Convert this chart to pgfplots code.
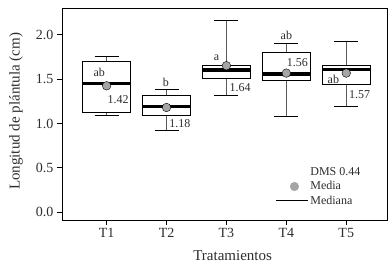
\documentclass[border=0pt]{standalone}
\usepackage{pgfplots}
\pgfplotsset{compat=1.18}
\usepgfplotslibrary{statistics}
\usepackage{fontspec}
\setmainfont{Liberation Serif}
\definecolor{meangray}{RGB}{165,165,165}
\definecolor{txt}{RGB}{45,45,50}
\definecolor{whisk}{RGB}{90,90,90}
\begin{document}
\begin{tikzpicture}
\useasboundingbox (-62pt,-47pt) rectangle (329pt,220pt);
\begin{axis}[
  at={(0,0)}, anchor=south west,
  scale only axis, width=325pt, height=212pt,
  xmin=0.255, xmax=5.68, ymin=-0.087, ymax=2.30,
  axis line style={black, line width=0.8pt},
  xtick={1,2,3,4,5}, xticklabels={T1,T2,T3,T4,T5},
  ytick={0,0.5,1.0,1.5,2.0},
  yticklabel style={/pgf/number format/fixed, /pgf/number format/precision=1, /pgf/number format/fixed zerofill},
  /pgf/number format/assume math mode=true,
  tick align=outside, xtick pos=bottom, ytick pos=left,
  major tick length=5pt,
  tick style={black, line width=0.8pt},
  ticklabel style={font=\fontsize{14}{14}\selectfont, text=txt},
  xlabel={Tratamientos}, ylabel={Longitud de plántula (cm)},
  label style={font=\fontsize{15}{15}\selectfont, text=txt},
  xlabel style={at={(axis description cs:0.525,0)}, anchor=center, yshift=-35.5pt},
  ylabel style={at={(axis description cs:-0.1415,0.512)}, anchor=center},
  boxplot/draw direction=y,
  boxplot/box extend=0.8,
  boxplot/whisker extend=0.4,
  boxplot/every box/.style={draw=black, fill=white, line width=0.8pt},
  boxplot/every median/.style={draw=black, line width=3.5pt},
  boxplot/draw/lower whisker/.code={%
    \draw[whisk, line width=1pt]
      (boxplot box cs:\pgfplotsboxplotvalue{lower whisker},0.5) --
      (boxplot box cs:\pgfplotsboxplotvalue{lower quartile},0.5);
    \draw[black, line width=0.8pt]
      (boxplot whisker cs:\pgfplotsboxplotvalue{lower whisker},0) --
      (boxplot whisker cs:\pgfplotsboxplotvalue{lower whisker},1);
  },
  boxplot/draw/upper whisker/.code={%
    \draw[whisk, line width=1pt]
      (boxplot box cs:\pgfplotsboxplotvalue{upper whisker},0.5) --
      (boxplot box cs:\pgfplotsboxplotvalue{upper quartile},0.5);
    \draw[black, line width=0.8pt]
      (boxplot whisker cs:\pgfplotsboxplotvalue{upper whisker},0) --
      (boxplot whisker cs:\pgfplotsboxplotvalue{upper whisker},1);
  },
  legend style={draw=none, fill=none, at={(axis description cs:0.658,0.255)}, anchor=north west,
    font=\fontsize{12}{12}\selectfont, text=txt, inner sep=0pt, row sep=1.5pt,
    nodes={inner sep=1.5pt}},
  legend cell align=left,
]
% boxplots
\addplot+[forget plot, mark=none, black, boxplot prepared={draw position=1, lower whisker=1.086, lower quartile=1.127, median=1.450, upper quartile=1.698, upper whisker=1.754}] coordinates {};
\addplot+[forget plot, mark=none, black, boxplot prepared={draw position=2, lower whisker=0.917, lower quartile=1.086, median=1.190, upper quartile=1.315, upper whisker=1.387}] coordinates {};
\addplot+[forget plot, mark=none, black, boxplot prepared={draw position=3, lower whisker=1.319, lower quartile=1.510, median=1.604, upper quartile=1.653, upper whisker=2.160}] coordinates {};
\addplot+[forget plot, mark=none, black, boxplot prepared={draw position=4, lower whisker=1.082, lower quartile=1.490, median=1.556, upper quartile=1.800, upper whisker=1.905}] coordinates {};
\addplot+[forget plot, mark=none, black, boxplot prepared={draw position=5, lower whisker=1.190, lower quartile=1.443, median=1.608, upper quartile=1.653, upper whisker=1.923}] coordinates {};
% means
\addplot[forget plot, only marks, mark=*, mark size=4.3pt, mark options={draw=none, fill=meangray}]
  coordinates {(1,1.424) (2,1.18) (3,1.65) (4,1.567) (5,1.567)};
% annotations
\begin{scope}[every node/.style={font=\fontsize{12}{12}\selectfont, text=txt, inner sep=0pt}]
\node at (axis cs:0.877,1.578) {ab};
\node at (axis cs:1.193,1.274) {1.42};
\node at (axis cs:1.988,1.461) {b};
\node at (axis cs:2.222,1.003) {1.18};
\node at (axis cs:2.833,1.736) {a};
\node at (axis cs:3.230,1.405) {1.64};
\node at (axis cs:4.000,1.988) {ab};
\node at (axis cs:4.185,1.690) {1.56};
\node at (axis cs:4.785,1.495) {ab};
\node at (axis cs:5.222,1.322) {1.57};
\end{scope}
% legend
\addlegendimage{empty legend}
\addlegendentry{DMS 0.44}
\addlegendimage{legend image code/.code={\fill[meangray] (18pt,0pt) circle (4.3pt);}}
\addlegendentry{Media}
\addlegendimage{legend image code/.code={\draw[black, line width=0.8pt] (0pt,0pt) -- (32pt,0pt);}}
\addlegendentry{Mediana}
\end{axis}
\end{tikzpicture}
\end{document}
